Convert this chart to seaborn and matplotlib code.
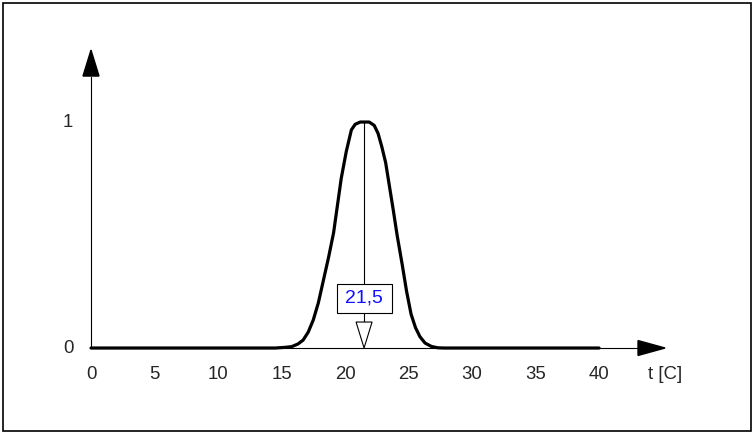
"""Membership function plot with peak marker"""

import matplotlib.pyplot as plt
import numpy as np
import pandas as pd
import seaborn as sns
from matplotlib.patches import Polygon, Rectangle

# curve
t_values = [0, 14.5, 15.3, 15.8, 16.3, 16.7, 17.1, 17.5, 17.9, 18.3, 18.7, 19.1,
            19.4, 19.7, 20.1, 20.5, 20.8, 21.2, 21.5, 21.9, 22.3, 22.6, 22.9,
            23.2, 23.5, 23.8, 24.1, 24.5, 24.85, 25.2, 25.55, 25.9, 26.3, 26.8,
            27.3, 27.8, 40]
mu_values = [0, 0, 0.003, 0.006, 0.018, 0.035, 0.07, 0.124, 0.20, 0.30, 0.40, 0.51,
             0.63, 0.75, 0.87, 0.965, 0.99, 1.0, 1.0, 1.0, 0.985, 0.95, 0.89,
             0.82, 0.715, 0.61, 0.50, 0.37, 0.25, 0.15, 0.09, 0.05, 0.022, 0.007,
             0.001, 0, 0]
x_ticks = [0, 5, 10, 15, 20, 25, 30, 35, 40]
y_ticks = [0, 1]
peak = 21.5
peak_label = "21,5"
x_label = "t [C]"

sns.set_style("white")
plt.rcParams["font.family"] = ["Liberation Sans", "DejaVu Sans"]

fig = plt.figure(figsize=(7.55, 4.34), dpi=100)
ax = fig.add_axes([0, 0, 1, 1])
ax.set_xlim(-7.165, 52.28)
ax.set_ylim(-0.3805, 1.540)
ax.axis("off")

df = pd.DataFrame({"t": t_values, "mu": mu_values})

# axes with arrow heads
ax.plot([0, 43.1], [0, 0], color="black", lw=0.8, zorder=2)
ax.plot([0, 0], [0, 1.2], color="black", lw=0.8, zorder=2)
ax.add_patch(Polygon([[45.2, 0], [43.07, 0.033], [43.07, -0.033]], closed=True,
                     color="black", zorder=3))
ax.add_patch(Polygon([[0, 1.3186], [-0.63, 1.2035], [0.63, 1.2035]], closed=True,
                     color="black", zorder=3))

sns.lineplot(data=df, x="t", y="mu", ax=ax, color="black", lw=2.3, zorder=4)

# peak marker
ax.plot([peak, peak], [1.0, 0.115], color="black", lw=0.8, zorder=3)
ax.add_patch(Polygon([[peak, 0], [peak - 0.63, 0.115], [peak + 0.63, 0.115]],
                     closed=True, facecolor="white", edgecolor="black", lw=0.8, zorder=5))
ax.add_patch(Rectangle((19.37, 0.155), 4.33, 0.128, facecolor="white",
                       edgecolor="black", lw=0.8, zorder=5))
ax.text(peak, 0.221, peak_label, color="#1010ff", fontsize=14, ha="center",
        va="center", zorder=6)

# tick labels
for x in x_ticks:
    ax.text(x, -0.115, str(x), fontsize=13.4, ha="center", va="center")
for y in y_ticks:
    ax.text(-1.8, y, str(y), fontsize=13.4, ha="center", va="center")
ax.text(45.2, -0.115, x_label, fontsize=13.4, ha="center", va="center")

# frame
fig.patches.append(Rectangle((3 / 755, 3 / 434), 748 / 755, 428 / 434,
                             transform=fig.transFigure, fill=False,
                             edgecolor="black", lw=1.2))

plt.savefig("out.png", dpi=100)
plt.close()
